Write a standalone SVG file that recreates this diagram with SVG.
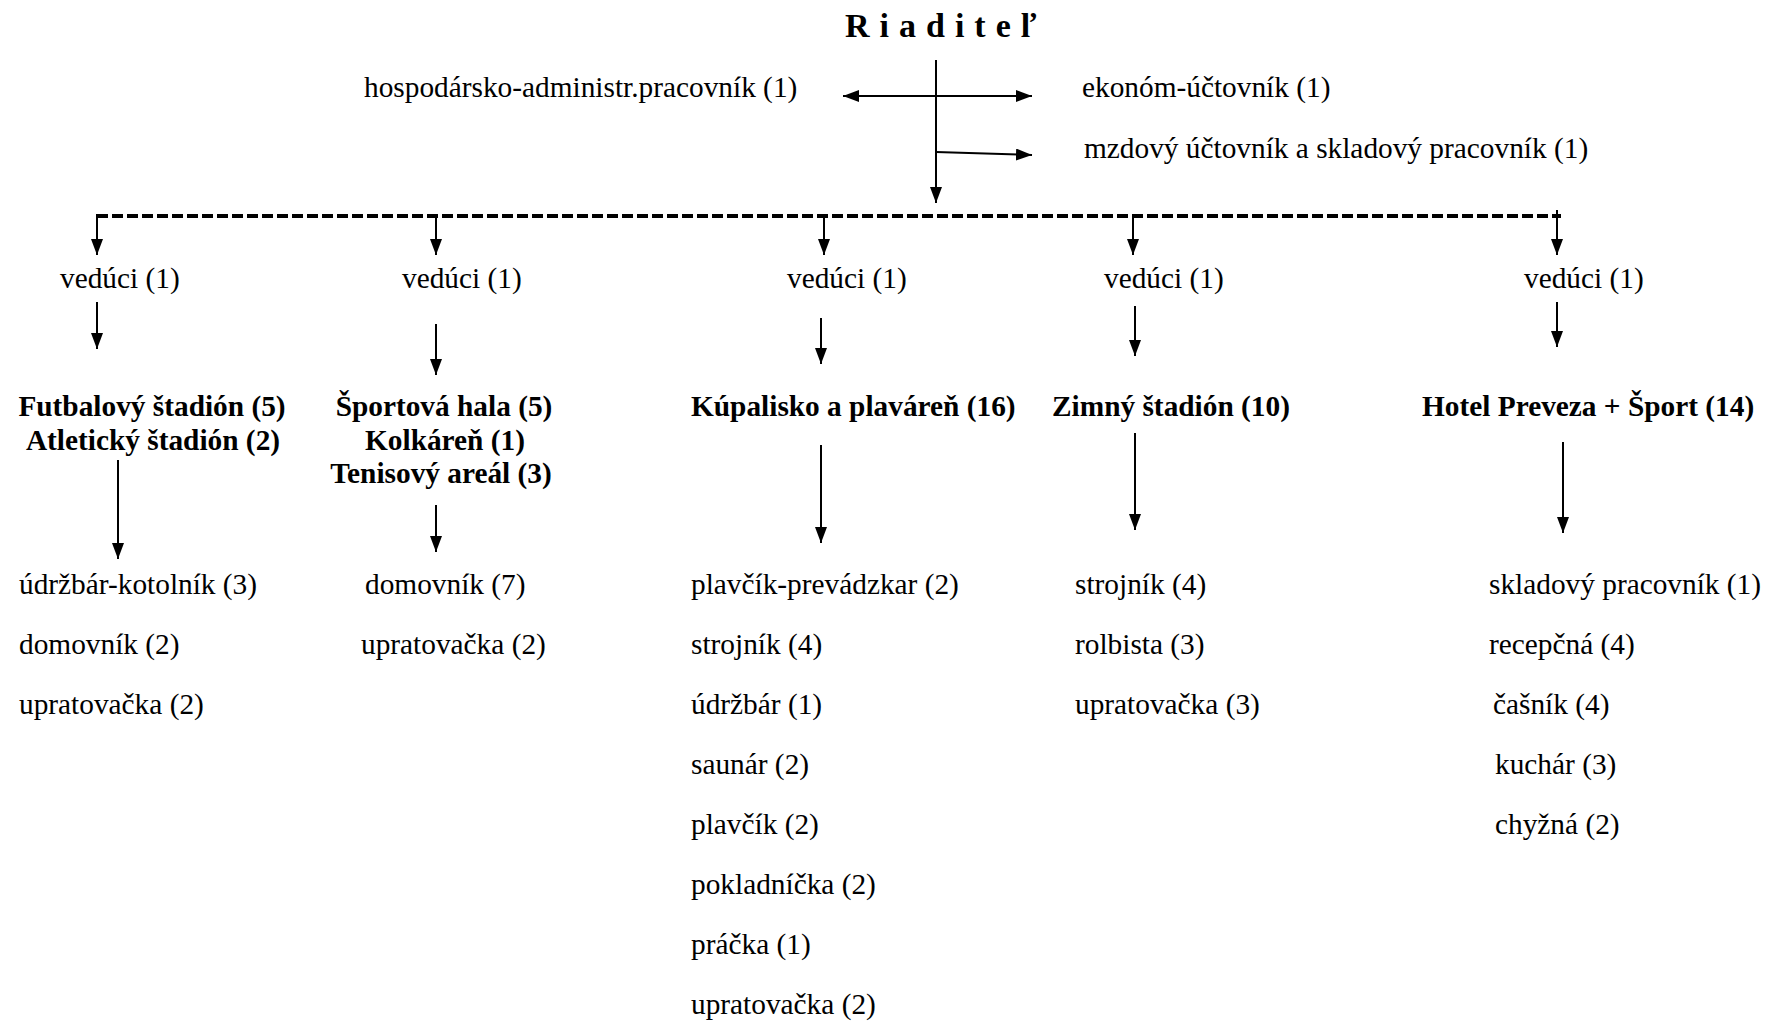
<svg xmlns="http://www.w3.org/2000/svg" width="1767" height="1022" viewBox="0 0 1767 1022">
<style>
text{font-family:"Liberation Serif","Times New Roman",serif;font-size:29.33px;fill:#000}
.b{font-weight:bold}
.m{text-anchor:middle}
.ln{stroke:#000;stroke-width:2;fill:none}
.ar{marker-end:url(#ah)}
.dash{stroke:#000;stroke-width:4;stroke-dasharray:11 4;fill:none}
</style>
<defs>
<marker id="ah" viewBox="0 0 16 12" refX="16" refY="6" markerWidth="16" markerHeight="12" markerUnits="userSpaceOnUse" orient="auto-start-reverse">
<path d="M0,0 L16,6 L0,12 z" fill="#000"/>
</marker>
</defs>
<rect width="1767" height="1022" fill="#fff"/>
<g id="connectors">
<line class="ln" x1="843" y1="96" x2="1032" y2="96" marker-start="url(#ah)" marker-end="url(#ah)"/>
<line class="ln ar" x1="936" y1="60" x2="936" y2="203"/>
<line class="ln ar" x1="936" y1="152" x2="1032" y2="155"/>
<path class="dash" d="M97,216 H1561"/>
<line class="ln ar" x1="97" y1="214" x2="97" y2="255"/>
<line class="ln ar" x1="436" y1="216" x2="436" y2="255"/>
<line class="ln ar" x1="824" y1="216" x2="824" y2="255"/>
<line class="ln ar" x1="1133" y1="216" x2="1133" y2="255"/>
<line class="ln ar" x1="1557" y1="210" x2="1557" y2="255"/>
<line class="ln ar" x1="97" y1="302" x2="97" y2="349"/>
<line class="ln ar" x1="436" y1="324" x2="436" y2="375"/>
<line class="ln ar" x1="821" y1="318" x2="821" y2="364"/>
<line class="ln ar" x1="1135" y1="306" x2="1135" y2="356"/>
<line class="ln ar" x1="1557" y1="302" x2="1557" y2="347"/>
<line class="ln ar" x1="118" y1="460" x2="118" y2="559"/>
<line class="ln ar" x1="436" y1="505" x2="436" y2="552"/>
<line class="ln ar" x1="821" y1="445" x2="821" y2="543"/>
<line class="ln ar" x1="1135" y1="433" x2="1135" y2="530"/>
<line class="ln ar" x1="1563" y1="442" x2="1563" y2="533"/>
</g>
<g id="riaditel"><text class="b" x="845" y="37" style="font-size:34px;letter-spacing:10px">Riaditeľ</text></g>
<g id="hosp"><text x="364" y="97">hospodársko-administr.pracovník (1)</text></g>
<g id="ekonom"><text x="1082" y="97">ekonóm-účtovník (1)</text></g>
<g id="mzdovy"><text x="1084" y="158">mzdový účtovník a skladový pracovník (1)</text></g>
<g id="veduci1"><text x="60" y="288">vedúci (1)</text></g>
<g id="veduci2"><text x="402" y="288">vedúci (1)</text></g>
<g id="veduci3"><text x="787" y="288">vedúci (1)</text></g>
<g id="veduci4"><text x="1104" y="288">vedúci (1)</text></g>
<g id="veduci5"><text x="1524" y="288">vedúci (1)</text></g>
<g id="futbal"><text class="b m" x="152" y="416">Futbalový štadión (5)</text><text class="b m" x="153" y="450">Atletický štadión (2)</text></g>
<g id="sport"><text class="b m" x="444" y="416">Športová hala (5)</text><text class="b m" x="445" y="450">Kolkáreň (1)</text><text class="b m" x="441" y="483">Tenisový areál (3)</text></g>
<g id="kupalisko"><text class="b" x="691" y="416">Kúpalisko a plaváreň (16)</text></g>
<g id="zimny"><text class="b" x="1052" y="416">Zimný štadión (10)</text></g>
<g id="hotel"><text class="b" x="1422" y="416">Hotel Preveza + Šport (14)</text></g>
<g id="list1"><text x="19" y="594">údržbár-kotolník (3)</text><text x="19" y="654">domovník (2)</text><text x="19" y="714">upratovačka (2)</text></g>
<g id="list2"><text x="365" y="594">domovník (7)</text><text x="361" y="654">upratovačka (2)</text></g>
<g id="list3"><text x="691" y="594">plavčík-prevádzkar (2)</text><text x="691" y="654">strojník (4)</text><text x="691" y="714">údržbár (1)</text><text x="691" y="774">saunár (2)</text><text x="691" y="834">plavčík (2)</text><text x="691" y="894">pokladníčka (2)</text><text x="691" y="954">práčka (1)</text><text x="691" y="1014">upratovačka (2)</text></g>
<g id="list4"><text x="1075" y="594">strojník (4)</text><text x="1075" y="654">rolbista (3)</text><text x="1075" y="714">upratovačka (3)</text></g>
<g id="list5"><text x="1489" y="594">skladový pracovník (1)</text><text x="1489" y="654">recepčná (4)</text><text x="1493" y="714">čašník (4)</text><text x="1495" y="774">kuchár (3)</text><text x="1495" y="834">chyžná (2)</text></g>
</svg>
